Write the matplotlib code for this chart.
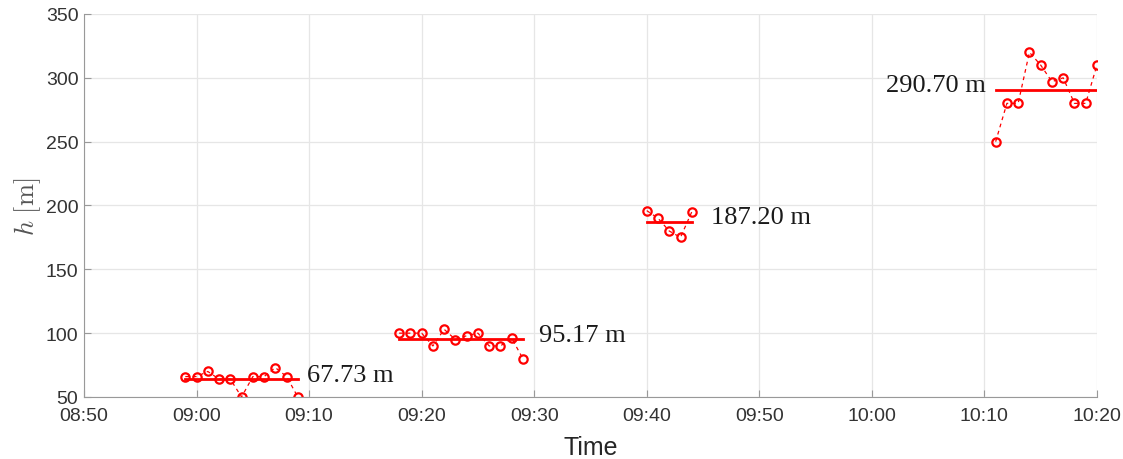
import datetime as dt
import matplotlib
matplotlib.use('Agg')
import matplotlib.pyplot as plt
import matplotlib.dates as mdates
import numpy as np

plt.rcParams['font.family'] = ['Liberation Sans', 'DejaVu Sans']
plt.rcParams['mathtext.fontset'] = 'cm'

# four flight segments: start time (HH:MM), one reading per minute
starts = ['08:59', '09:18', '09:40', '10:11']
heights = [
    [66, 66, 70, 64, 64, 50, 66, 66, 73, 66, 50],
    [100, 100, 100, 90, 103, 95, 98, 100, 90, 90, 96, 80],
    [196, 190, 180, 175, 195],
    [250, 280, 280, 320, 310, 297, 300, 280, 280, 310],
]
labels = ['67.73 m', '95.17 m', '187.20 m', '290.70 m']

day = dt.date(2020, 1, 1)

def to_time(s, k):
    t = dt.datetime.combine(day, dt.datetime.strptime(s, '%H:%M').time())
    return t + dt.timedelta(minutes=k)

fig = plt.figure(figsize=(11.23, 4.6), dpi=100)
ax = fig.add_axes([0.0748, 0.1348, 0.902, 0.8326])

red = '#ff0000'
# text anchor: (minutes from the segment end / start, alignment)
text_pos = [(0.85, 'left', 'end'), (1.4, 'left', 'end'), (1.7, 'left', 'end'), (-0.9, 'right', 'start')]

for s, h, lab, (dx, ha, ref) in zip(starts, heights, labels, text_pos):
    t = [to_time(s, k) for k in range(len(h))]
    ax.plot(t, h, ls='--', lw=0.9, color=red, marker='o', ms=6, mfc='none',
            mec=red, mew=1.6, dashes=(3, 3))
    m = np.mean(h)
    ax.plot([t[0], t[-1]], [m, m], color=red, lw=2)
    tx = (t[-1] if ref == 'end' else t[0]) + dt.timedelta(minutes=dx)
    ax.text(tx, m + 3.5, lab, ha=ha, va='center', fontsize=19,
            family='Liberation Serif', color='#1a1a1a')

ax.set_xlim(to_time('08:50', 0), to_time('10:20', 0))
ax.set_ylim(50, 350)
ax.set_yticks(np.arange(50, 351, 50))
ax.xaxis.set_major_locator(mdates.MinuteLocator(byminute=range(0, 60, 10)))
ax.xaxis.set_major_formatter(mdates.DateFormatter('%H:%M'))

ax.grid(True, color='#e6e6e6', lw=0.9)
ax.set_axisbelow(True)
for sp in ['top', 'right']:
    ax.spines[sp].set_visible(False)
for sp in ['left', 'bottom']:
    ax.spines[sp].set_color('#999999')
ax.tick_params(direction='in', length=5, color='#999999', labelsize=14,
               labelcolor='#333333')
ax.tick_params(axis='x', pad=7)
ax.tick_params(axis='y', pad=4)

ax.set_xlabel('Time', fontsize=18, color='#262626', labelpad=8)
ax.set_ylabel(r'$h\ [\mathrm{m}]$', fontsize=19, color='#555555', labelpad=2)

fig.savefig('out.png', dpi=100)
